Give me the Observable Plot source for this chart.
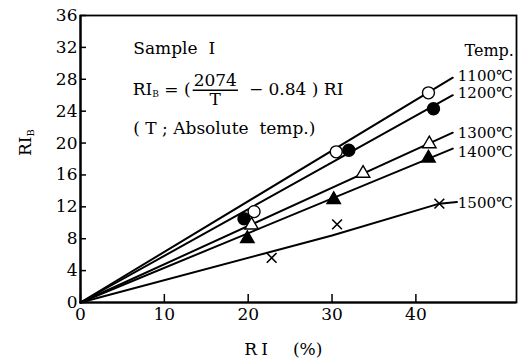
<!DOCTYPE html>
<html><head><meta charset="utf-8">
<script src="https://cdn.jsdelivr.net/npm/d3@7"></script>
<script src="https://cdn.jsdelivr.net/npm/@observablehq/plot@0.6"></script>
<style>
body{margin:0;background:#fff}
svg, svg text{font-family:"DejaVu Serif","Liberation Serif",serif !important}
</style>
</head><body><div id="chart"></div>
<script>
// Series (temperature)
const temps = ["1100℃", "1200℃", "1300℃", "1400℃", "1500℃"];
const symbols = ["circle", "circle", "triangle", "triangle", "times"];
const filled = [false, true, false, true, false];
// Measured points: RI (%) and RI_B
const pointRI  = [[20.7, 30.5, 41.5], [19.5, 32.0, 42.1], [20.4, 33.7, 41.6], [19.9, 30.2, 41.5], [22.8, 30.6, 42.8]];
const pointRIB = [[11.4, 18.9, 26.3], [10.5, 19.1, 24.3], [9.7, 16.2, 19.9], [8.0, 12.9, 18.1], [5.6, 9.8, 12.4]];
// Fitted lines (vertices)
const lineRI  = [[0, 44.4], [0, 44.4], [0, 44.4], [0, 44.4], [0, 30, 42.8, 44.9]];
const lineRIB = [[0, 28.2], [0, 26.0], [0, 21.3], [0, 19.3], [0, 8.4, 12.4, 12.6]];
// Series labels
const labelRI  = [45.0, 45.0, 45.0, 45.0, 45.0];
const labelRIB = [28.4, 26.2, 21.3, 18.8, 12.5];
// Ticks
const xTicks = [0, 10, 20, 30, 40];
const yTicks = [0, 4, 8, 12, 16, 20, 24, 28, 32, 36];

const points = temps.flatMap((t, i) => pointRI[i].map((x, j) => ({temp: t, x, y: pointRIB[i][j]})));
const lines = temps.flatMap((t, i) => lineRI[i].map((x, j) => ({temp: t, x, y: lineRIB[i][j]})));
const labels = temps.map((t, i) => ({temp: t, x: labelRI[i], y: labelRIB[i]}));

const notes = [
  {text: "Sample  Ⅰ", x: 6.3, y: 31.9},
  {text: "( T ; Absolute  temp.)", x: 6.3, y: 21.8}
];
const headNote = [{text: "Temp.", x: 45.8, y: 31.6}];

const dotMarks = temps.map((t, i) => Plot.dot(points.filter(d => d.temp === t), {
  x: "x", y: "y",
  symbol: symbols[i],
  r: symbols[i] === "circle" ? 6 : symbols[i] === "triangle" ? 5 : 4.5,
  fill: symbols[i] === "times" ? "none" : (filled[i] ? "black" : "white"),
  stroke: "black",
  strokeWidth: symbols[i] === "times" ? 1.6 : 1.4
}));

const plot = Plot.plot({
  width: 519,
  height: 362,
  marginLeft: 80,
  marginRight: 3,
  marginTop: 15,
  marginBottom: 60,
  style: {fontFamily: "'DejaVu Serif', serif", background: "white"},
  x: {domain: [0, 52]},
  y: {domain: [0, 36]},
  marks: [
    Plot.frame({stroke: "black", strokeWidth: 1.8}),
    Plot.ruleY([0], {stroke: "black", strokeWidth: 2.2}),
    Plot.ruleX([0], {stroke: "black", strokeWidth: 2.2}),
    Plot.axisX(xTicks, {tickSize: -8, tickPadding: 13, fontSize: 17, stroke: "black", strokeWidth: 1.5, label: null, color: "black"}),
    Plot.axisY(yTicks, {tickSize: -6, tickPadding: 9, fontSize: 17, stroke: "black", strokeWidth: 1.5, label: null, color: "black"}),
    Plot.line(lines, {x: "x", y: "y", z: "temp", stroke: "black", strokeWidth: 2}),
    ...dotMarks,
    Plot.text(labels, {x: "x", y: "y", text: "temp", textAnchor: "start", fontSize: 15, fill: "black"}),
    Plot.text(notes, {x: "x", y: "y", text: "text", textAnchor: "start", fontSize: 17, fill: "black"}),
    Plot.text(headNote, {x: "x", y: "y", text: "text", textAnchor: "start", fontSize: 16, fill: "black"})
  ]
});
document.getElementById("chart").appendChild(plot);

// Formula and axis titles with subscripts
const svg = d3.select(plot);
const xs = plot.scale("x"), ys = plot.scale("y");
const fx = xs.apply(6.3), fy = ys.apply(26.7) + 6;
const g = svg.append("g").attr("font-size", 17).attr("fill", "black").attr("text-anchor", "start");
const t1 = g.append("text").attr("x", fx).attr("y", fy);
t1.append("tspan").text("RI");
t1.append("tspan").attr("font-size", 9).attr("dy", 2).text("B");
t1.append("tspan").attr("dy", -2).text(" = (");
const w1 = t1.node().getComputedTextLength();
const fracX = fx + w1 + 3;
const num = g.append("text").attr("x", fracX).attr("y", fy - 9).text("2074");
const nw = num.node().getComputedTextLength();
g.append("line").attr("x1", fracX - 1).attr("x2", fracX + nw + 1).attr("y1", fy - 5).attr("y2", fy - 5).attr("stroke", "black").attr("stroke-width", 1.5);
g.append("text").attr("x", fracX + nw / 2).attr("y", fy + 10).attr("text-anchor", "middle").text("T");
g.append("text").attr("x", fracX + nw + 12).attr("y", fy).text("− 0.84 ) RI");

// y axis title
const yl = g.append("text").attr("transform", `translate(31,${ys.apply(20)}) rotate(-90)`).attr("text-anchor", "middle").attr("font-size", 17);
yl.append("tspan").text("RI");
yl.append("tspan").attr("font-size", 10).attr("dy", 3).text("B");
// x axis title
g.append("text").attr("x", xs.apply(19.6)).attr("y", 355).attr("font-size", 17).attr("letter-spacing", 4).text("RI");
g.append("text").attr("x", xs.apply(25.4)).attr("y", 355).attr("font-size", 17).text("(%)");
</script>
</body></html>
